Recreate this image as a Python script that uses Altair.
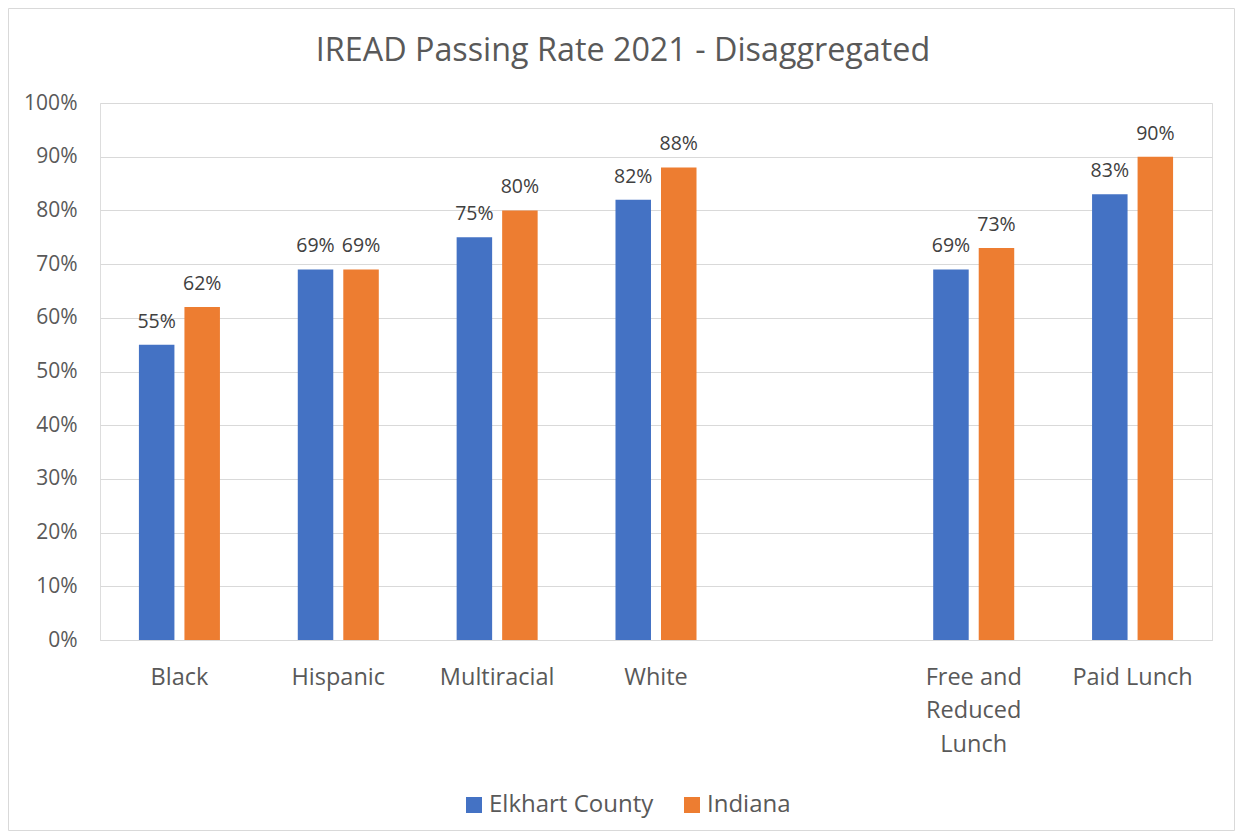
import altair as alt
import pandas as pd

categories = ["Black", "Hispanic", "Multiracial", "White", " ", "Free and Reduced Lunch", "Paid Lunch"]
bar_categories = ["Black", "Hispanic", "Multiracial", "White", "Free and Reduced Lunch", "Paid Lunch"]
series = ["Elkhart County", "Indiana"]
elkhart = [0.55, 0.69, 0.75, 0.82, 0.69, 0.83]
indiana = [0.62, 0.69, 0.80, 0.88, 0.73, 0.90]
colors = ["#4472C4", "#ED7D31"]
y_ticks = [0.0, 0.1, 0.2, 0.3, 0.4, 0.5, 0.6, 0.7, 0.8, 0.9, 1.0]
title_text = "IREAD Passing Rate 2021 - Disaggregated"

rows = []
for c, e, i in zip(bar_categories, elkhart, indiana):
    rows.append({"category": c, "series": series[0], "value": e})
    rows.append({"category": c, "series": series[1], "value": i})
df = pd.DataFrame(rows)

FONT = "Open Sans"

x_enc = alt.X(
    "category:N",
    sort=categories,
    scale=alt.Scale(domain=categories, paddingInner=0.49, paddingOuter=0.245),
    axis=alt.Axis(
        title=None,
        labelAngle=0,
        labelFont=FONT,
        labelFontSize=23.5,
        labelColor="#595959",
        labelPadding=25,
        labelLineHeight=33.5,
        labelExpr="datum.label == 'Free and Reduced Lunch' ? ['Free and', 'Reduced', 'Lunch'] : datum.label",
        ticks=False,
        domainColor="#d9d9d9",
        domainWidth=1,
        grid=False,
    ),
)
xoff = alt.XOffset("series:N", sort=series, scale=alt.Scale(domain=series, paddingInner=0.22))
y_enc = alt.Y(
    "value:Q",
    scale=alt.Scale(domain=[0, 1]),
    axis=alt.Axis(
        title=None,
        values=y_ticks,
        format=".0%",
        labelFont=FONT,
        labelFontSize=21,
        labelColor="#595959",
        labelPadding=23,
        ticks=False,
        domain=False,
        grid=True,
        gridColor="#d9d9d9",
        gridWidth=1,
    ),
)

border = alt.Chart(pd.DataFrame({"k": [0]})).mark_rect(
    fillOpacity=0, stroke="#d9d9d9", strokeWidth=1
).encode(
    x=alt.value(-91.5), x2=alt.value(1134.5), y=alt.value(-94.5), y2=alt.value(727.5)
)

title = alt.Chart(pd.DataFrame({"t": [title_text]})).mark_text(
    font=FONT, fontSize=32.3, color="#595959", baseline="alphabetic", align="center"
).encode(
    x=alt.value(523), y=alt.value(-42), text="t:N"
)

bars = alt.Chart(df).mark_bar().encode(
    x=x_enc,
    xOffset=xoff,
    y=y_enc,
    color=alt.Color(
        "series:N",
        sort=series,
        scale=alt.Scale(domain=series, range=colors),
        legend=alt.Legend(
            title=None,
            orient="none",
            legendX=362,
            legendY=690,
            direction="horizontal",
            symbolType="square",
            symbolSize=256,
            symbolStrokeWidth=0,
            labelFont=FONT,
            labelFontSize=24,
            labelColor="#595959",
            labelOffset=3,
            labelLimit=0,
            columnPadding=26,
        ),
    ),
)

labels = alt.Chart(df).mark_text(
    font=FONT, fontSize=19.5, color="#404040", baseline="alphabetic", dy=-17
).encode(
    x=alt.X("category:N", sort=categories),
    xOffset=alt.XOffset("series:N", sort=series),
    y="value:Q",
    text=alt.Text("value:Q", format=".0%"),
)

chart = alt.layer(border, title, bars, labels).properties(
    width=1112,
    height=537,
    padding={"left": 92, "top": 95, "right": 23, "bottom": 191},
    autosize=alt.AutoSizeParams(type="none"),
).configure_view(stroke=None).configure(background="white")

chart.save("out.html", embed_options={"renderer": "svg", "actions": False})
